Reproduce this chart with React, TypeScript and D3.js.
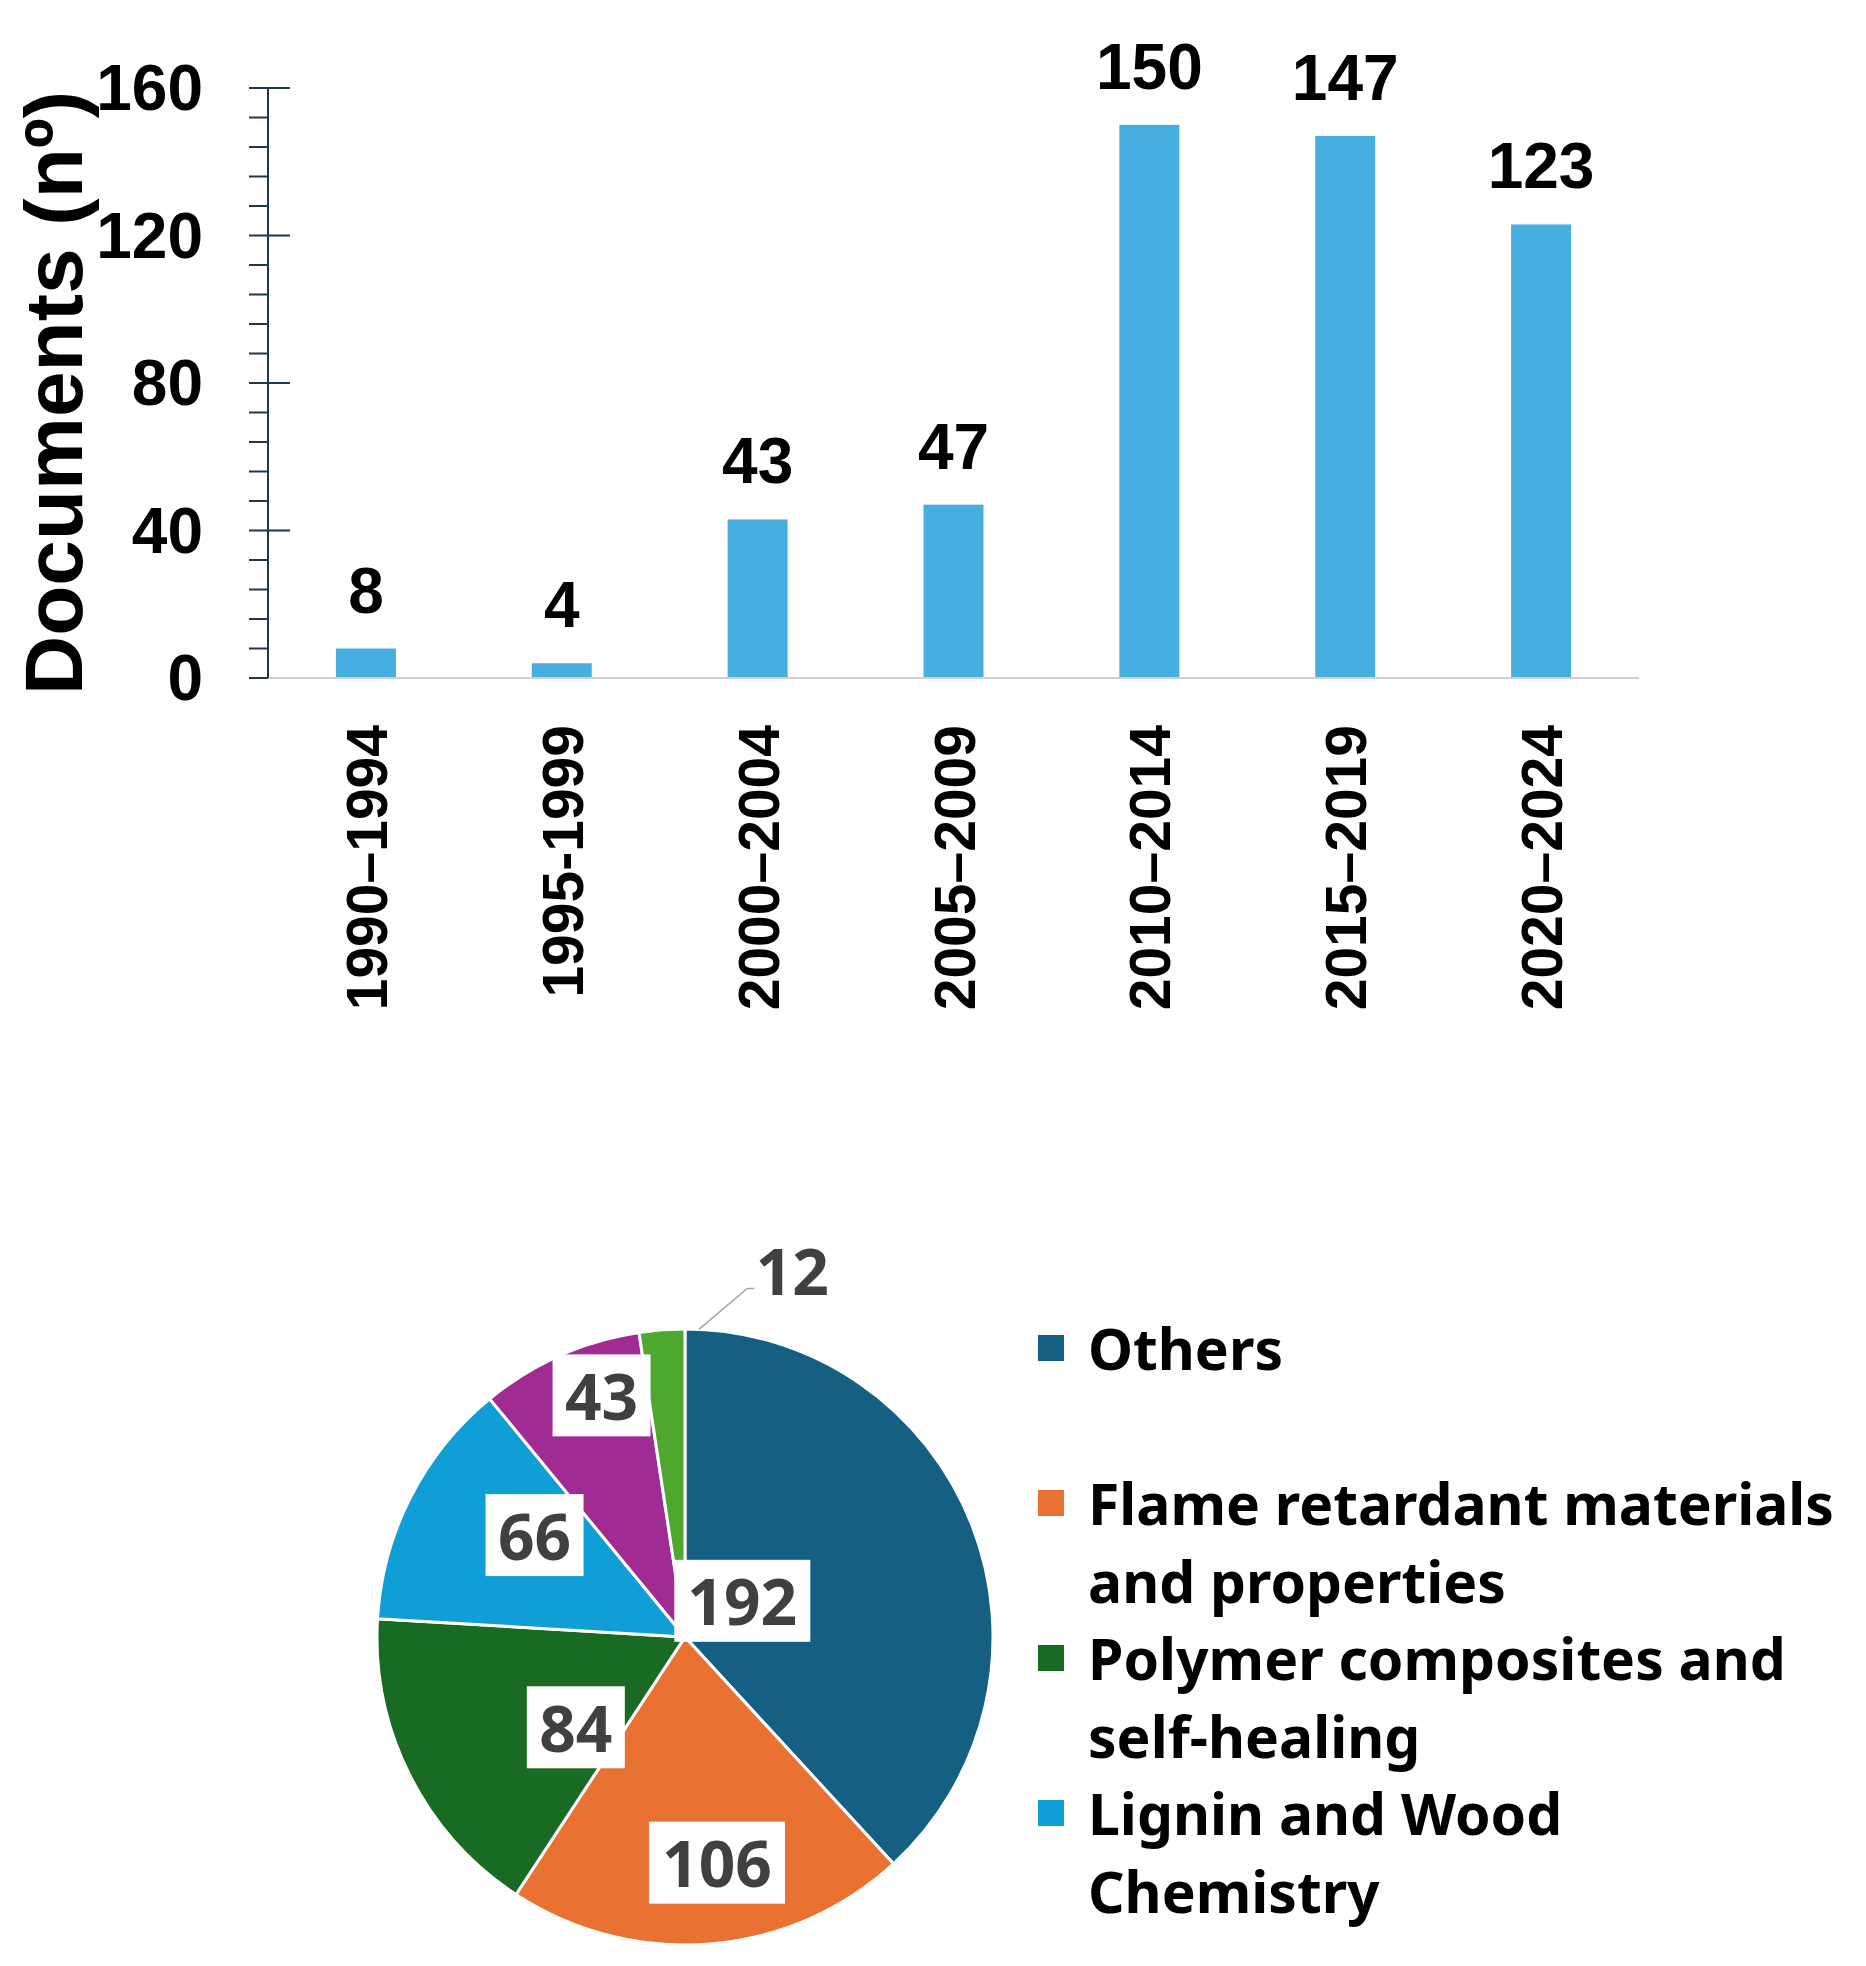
import React from "react";
import * as d3 from "d3";

// ---- Data ----
const periods = ["1990–1994", "1995-1999", "2000–2004", "2005–2009", "2010–2014", "2015–2019", "2020–2024"];
const documents = [8, 4, 43, 47, 150, 147, 123];
const yTickValues = [0, 40, 80, 120, 160];

const topicValues = [192, 106, 84, 66, 43, 12];
const topicColors = ["#156082", "#E97132", "#196B24", "#0F9ED5", "#A02B93", "#4EA72E"];
const legendLines = [
  ["Others"],
  ["Flame retardant materials", "and properties"],
  ["Polymer composites and", "self-healing"],
  ["Lignin and Wood", "Chemistry"],
];
const legendSlots = [0, 2, 4, 6];

// label placement inside slices: fraction of slice sweep, fraction of radius
const labelAngleFrac = [0.42, 0.455, 0.285, 0.65, 0.66, 2.9];
const labelRadiusFrac = [0.22, 0.74, 0.46, 0.59, 0.83, 1.24];

const W = 1866;
const H = 1966;

export default function App() {
  // ---- Bar chart ----
  const axisX = 268;
  const x = d3.scaleBand<string>().domain(periods).range([axisX, 1639]).padding(0);
  const y = d3.scaleLinear().domain([0, 160]).range([678, 88]);
  const barW = 60;
  const minorTicks = d3.range(0, 161, 8);
  const arial = "'Liberation Sans', Arial, sans-serif";
  const aptos = "'Noto Sans', 'Open Sans', sans-serif";

  // ---- Pie ----
  const cx = 685, cy = 1637, R = 308;
  const pie = d3.pie<number>().sort(null).value((d) => d)(topicValues);
  const arc = d3.arc<d3.PieArcDatum<number>>().innerRadius(0).outerRadius(R);

  const labelPos = pie.map((p, i) => {
    const a = p.startAngle + (p.endAngle - p.startAngle) * labelAngleFrac[i];
    const r = R * labelRadiusFrac[i];
    return [Math.sin(a) * r, -Math.cos(a) * r];
  });

  const last = pie[pie.length - 1];
  const leaderA = (last.startAngle + last.endAngle) / 2 + 0.12;
  const leaderStart = [Math.sin(leaderA) * R, -Math.cos(leaderA) * R];

  const legendX = 1038;
  const legendY0 = 1348;
  const legendPitch = 77.5;

  return (
    <svg width={W} height={H} style={{ position: "absolute", left: 0, top: 0, background: "#fff" }}>
      <rect width={W} height={H} fill="#fff" />
      {/* y axis title */}
      <text
        transform={`translate(53,393) rotate(-90)`}
        textAnchor="middle"
        dominantBaseline="central"
        fontFamily={arial}
        fontWeight="bold"
        fontSize={82}
        fill="#000"
      >
        Documents (nº)
      </text>
      {/* bars */}
      {documents.map((v, i) => {
        const c = (x(periods[i]) as number) + x.bandwidth() / 2;
        return (
          <g key={i}>
            <rect x={c - barW / 2} y={y(v)} width={barW} height={y(0) - y(v)} fill="#47AFDF" />
            <text x={c} y={y(v) - 36} textAnchor="middle" fontFamily={arial} fontWeight="bold" fontSize={64} fill="#000">
              {v}
            </text>
            <text
              transform={`translate(${c + 21},725) rotate(-90)`}
              textAnchor="end"
              fontFamily={arial}
              fontWeight="bold"
              fontSize={57}
              fill="#000"
            >
              {periods[i]}
            </text>
          </g>
        );
      })}
      {/* x axis line */}
      <line x1={axisX} x2={1639} y1={y(0)} y2={y(0)} stroke="#D0D0D0" strokeWidth={2} />
      {/* y axis */}
      <line x1={axisX} x2={axisX} y1={y(160)} y2={y(0)} stroke="#1F3550" strokeWidth={2} />
      {minorTicks.map((t) => (
        <line key={t} x1={axisX - 19} x2={yTickValues.includes(t) && t !== 0 ? axisX + 22 : axisX} y1={y(t)} y2={y(t)} stroke="#1F3550" strokeWidth={2} />
      ))}
      {yTickValues.map((t) => (
        <text key={t} x={203} y={y(t)} textAnchor="end" dominantBaseline="central" fontFamily={arial} fontWeight="bold" fontSize={64} fill="#000">
          {t}
        </text>
      ))}

      {/* pie */}
      <g transform={`translate(${cx},${cy})`}>
        {pie.map((p, i) => (
          <path key={i} d={arc(p) as string} fill={topicColors[i]} stroke="#fff" strokeWidth={3} />
        ))}
        <polyline
          points={`${leaderStart[0]},${leaderStart[1]} ${labelPos[5][0] - 45},${labelPos[5][1] + 18} ${labelPos[5][0] - 38},${labelPos[5][1] + 18}`}
          fill="none"
          stroke="#A6A6A6"
          strokeWidth={1.5}
        />
        {pie.map((p, i) => {
          const [lx, ly] = labelPos[i];
          const txt = String(topicValues[i]);
          const w = txt.length * 38 + 22;
          return (
            <g key={i}>
              {i < 5 && <rect x={lx - w / 2} y={ly - 41} width={w} height={82} fill="#fff" />}
              <text x={lx} y={ly} textAnchor="middle" dominantBaseline="central" fontFamily={aptos} fontWeight="bold" fontSize={64} fill="#404040">
                {txt}
              </text>
            </g>
          );
        })}
      </g>

      {/* legend */}
      {legendLines.map((lines, i) => {
        const yc = legendY0 + legendSlots[i] * legendPitch;
        return (
          <g key={i}>
            <rect x={legendX} y={yc - 13} width={26} height={26} fill={topicColors[i]} />
            {lines.map((ln, j) => (
              <text key={j} x={1088} y={yc + j * legendPitch} dominantBaseline="central" fontFamily={aptos} fontWeight="bold" fontSize={57} fill="#000">
                {ln}
              </text>
            ))}
          </g>
        );
      })}
    </svg>
  );
}
